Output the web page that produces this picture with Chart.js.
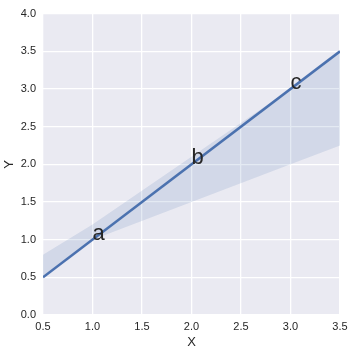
<!DOCTYPE html>
<html>
<head>
<meta charset="utf-8">
<script src="https://cdn.jsdelivr.net/npm/chart.js@4/dist/chart.umd.min.js"></script>
<style>
  html, body { margin: 0; padding: 0; background: #fff; }
  #wrap { width: 353px; height: 353px; }
</style>
</head>
<body>
<div id="wrap"><canvas id="chart" width="353" height="353"></canvas></div>
<script>
/* ── data ────────────────────────────────────────────────────── */
const labels   = ['a', 'b', 'c'];
const pointX   = [1, 2, 3];
const pointY   = [1, 2, 3];

const fitX     = [0.5, 3.5];
const fitY     = [0.5, 3.5];

const bandX    = [0.5, 1.0, 3.0, 3.5];
const bandHigh = [0.8, 1.2, 3.0, 3.5];
const bandLow  = [0.5, 1.0, 2.0, 2.25];

const xTicks   = [0.5, 1.0, 1.5, 2.0, 2.5, 3.0, 3.5];
const yTicks   = [0.0, 0.5, 1.0, 1.5, 2.0, 2.5, 3.0, 3.5, 4.0];

const BLUE     = '#4C72B0';
const FONT     = '"Liberation Sans", Arial, sans-serif';

const pairs = (xs, ys) => xs.map((x, i) => ({ x, y: ys[i] }));

/* ── plugins ─────────────────────────────────────────────────── */
const plotBg = {
    id: 'plotBg',
    beforeDraw(chart) {
        const { ctx, chartArea: a } = chart;
        ctx.save();
        ctx.fillStyle = '#EAEAF2';
        ctx.fillRect(a.left, a.top, a.right - a.left, a.bottom - a.top);
        ctx.restore();
    },
};

const textMarks = {
    id: 'textMarks',
    afterDatasetsDraw(chart) {
        const { ctx, scales } = chart;
        ctx.save();
        ctx.fillStyle = '#262626';
        ctx.font = '22px ' + FONT;
        ctx.textAlign = 'left';
        ctx.textBaseline = 'alphabetic';
        labels.forEach((t, i) => {
            ctx.fillText(t, scales.x.getPixelForValue(pointX[i]), scales.y.getPixelForValue(pointY[i]));
        });
        ctx.restore();
    },
};

/* ── chart ───────────────────────────────────────────────────── */
new Chart(document.getElementById('chart'), {
    type: 'scatter',
    data: {
        datasets: [
            {
                data: pairs(bandX, bandHigh),
                showLine: true,
                borderWidth: 0,
                pointRadius: 0,
                backgroundColor: 'rgba(76,114,176,0.15)',
                fill: '+1',
            },
            {
                data: pairs(bandX, bandLow),
                showLine: true,
                borderWidth: 0,
                pointRadius: 0,
                fill: false,
            },
            {
                data: pairs(fitX, fitY),
                showLine: true,
                borderColor: BLUE,
                borderWidth: 2.6,
                pointRadius: 0,
                fill: false,
            },
        ],
    },
    options: {
        responsive: false,
        animation: false,
        layout: { padding: { top: 12, right: 13, left: 2, bottom: 3 } },
        plugins: {
            legend: { display: false },
            tooltip: { enabled: false },
        },
        scales: {
            x: {
                type: 'linear',
                min: 0.5, max: 3.5,
                afterBuildTicks: s => { s.ticks = xTicks.map(v => ({ value: v })); },
                afterFit: s => { s.height = 35; },
                grid: { color: '#ffffff', lineWidth: 1.3, drawTicks: false },
                border: { display: false },
                ticks: {
                    padding: 5,
                    color: '#262626',
                    font: { family: FONT, size: 11 },
                    callback: v => v.toFixed(1),
                },
                title: {
                    display: true, text: 'X', color: '#262626',
                    font: { family: FONT, size: 13 }, padding: { top: 0, bottom: 0 },
                },
            },
            y: {
                type: 'linear',
                min: 0, max: 4,
                afterBuildTicks: s => { s.ticks = yTicks.map(v => ({ value: v })); },
                afterFit: s => { s.width = 41; },
                grid: { color: '#ffffff', lineWidth: 1.3, drawTicks: false },
                border: { display: false },
                ticks: {
                    padding: 7,
                    color: '#262626',
                    font: { family: FONT, size: 11 },
                    callback: v => v.toFixed(1),
                },
                title: {
                    display: true, text: 'Y', color: '#262626',
                    font: { family: FONT, size: 13 }, padding: { top: 0, bottom: 2 },
                },
            },
        },
    },
    plugins: [plotBg, textMarks],
});
</script>
</body>
</html>
